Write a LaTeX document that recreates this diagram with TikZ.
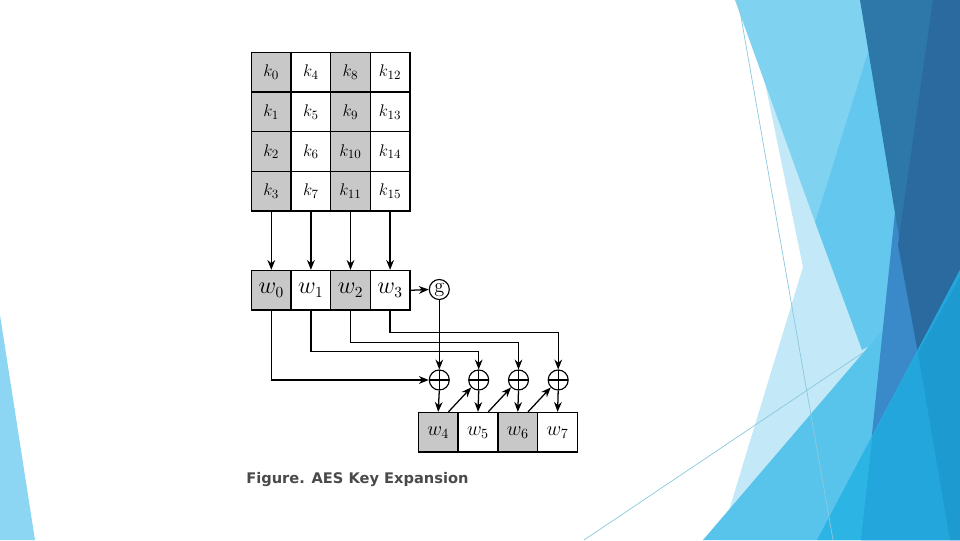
\documentclass[tikz,border=0pt]{standalone}
\usepackage{fontspec}
\usepackage{tikz}
\usetikzlibrary{arrows.meta,positioning,calc}
\newfontfamily\capfont{DejaVu Sans}
\definecolor{cellgray}{HTML}{C8C8C8}
\definecolor{capgray}{HTML}{4A4A4A}
\definecolor{thinline}{HTML}{8CC8DE}
\definecolor{facetpale}{HTML}{C3E8F8}
\definecolor{facetlight}{HTML}{80D2F1}
\definecolor{facetmid}{HTML}{64C8EE}
\definecolor{facetcyan}{HTML}{58C4EB}
\definecolor{facetbright}{HTML}{2BB4E4}
\definecolor{facetdeep}{HTML}{22A6DC}
\definecolor{facetband}{HTML}{1D9BD0}
\definecolor{facetstrip}{HTML}{3A8ACA}
\definecolor{facetdark}{HTML}{2E77A9}
\definecolor{facetdarker}{HTML}{2A6A9E}
\newcommand{\kfont}{\fontsize{13}{15}\selectfont}
\newcommand{\wfont}{\fontsize{16}{18}\selectfont}
\newcommand{\vfont}{\fontsize{14}{16}\selectfont}

\begin{document}
\begin{tikzpicture}[x=0.025cm,y=-0.025cm,
    cell/.style={draw,line width=0.9pt,minimum size=0.99cm,inner sep=0pt},
    xor/.style={circle,draw,line width=0.8pt,minimum size=0.5cm,inner sep=0pt,
      path picture={\draw[line width=0.8pt] (path picture bounding box.north) -- (path picture bounding box.south)
        (path picture bounding box.west) -- (path picture bounding box.east);}},
    arr/.style={line width=0.9pt,-{Stealth[length=7pt,width=5.5pt]}}]
  \useasboundingbox (0,0) rectangle (960,540);
  % slide background
  \fill[white] (0,0) rectangle (960,540);
  \fill[facetlight!90!white] (0,315) -- (35,540) -- (0,540) -- cycle;
  \fill[facetpale] (748,0) -- (803,267) -- (720,540) -- (960,540) -- (960,0) -- cycle;
  \fill[facetlight] (735,0) -- (884,0) -- (815,222) -- cycle;
  \fill[facetmid] (884,0) -- (960,0) -- (960,300) -- (862,350) -- (815,222) -- cycle;
  \fill[facetcyan] (703,540) -- (863,353) -- (960,240) -- (960,540) -- cycle;
  \fill[facetstrip] (895,212) -- (960,100) -- (960,540) -- (861,540) -- cycle;
  \fill[facetdark] (860,0) -- (960,0) -- (960,277) -- (918,353) -- cycle;
  \fill[facetdarker] (933,0) -- (960,0) -- (960,277) -- (918,353) -- (898,245) -- cycle;
  \fill[facetbright] (817,540) -- (960,270) -- (960,540) -- cycle;
  \fill[facetdeep] (872.4,436.8) -- (960,270) -- (960,540) -- (861,540) -- cycle;
  \fill[facetband] (918,353) -- (960,277) -- (960,540) -- (950,540) -- cycle;
  \draw[thinline,line width=0.5pt] (738,0) -- (833,540);
  \draw[thinline,line width=0.5pt] (584,540) -- (864,352);

  % key matrix
  \foreach \c in {0,...,3}
    \foreach \r in {0,...,3} {
      \pgfmathtruncatemacro{\idx}{4*\c+\r}
      \pgfmathtruncatemacro{\odd}{mod(\c,2)}
      \ifnum\odd=0 \def\cfill{cellgray}\else \def\cfill{white}\fi
      \node[cell,fill=\cfill,font=\kfont] (k\idx) at ({271.3+39.6*\c},{72.3+39.6*\r}) {$k_{\idx}$};
    }
  % first round words
  \foreach \c in {0,...,3} {
    \pgfmathtruncatemacro{\odd}{mod(\c,2)}
    \ifnum\odd=0 \def\cfill{cellgray}\else \def\cfill{white}\fi
    \node[cell,fill=\cfill,font=\wfont] (w\c) at ({271.3+39.6*\c},290.3) {$w_{\c}$};
  }
  \node[circle,draw,line width=0.8pt,minimum size=0.5cm,inner sep=0pt,font=\fontsize{14.5}{16}\selectfont] (g) at (439.3,289.5) {g};
  \foreach \i/\xx in {0/439.3,1/478.7,2/518.5,3/558.2}
    \node[xor] (x\i) at (\xx,380) {};
  % next round words
  \foreach \i in {0,...,3} {
    \pgfmathtruncatemacro{\j}{\i+4}
    \pgfmathtruncatemacro{\odd}{mod(\i,2)}
    \ifnum\odd=0 \def\cfill{cellgray}\else \def\cfill{white}\fi
    \node[cell,fill=\cfill,font=\vfont] (v\i) at ({438.2+39.8*\i},432.3) {$w_{\j}$};
  }

  \foreach \c in {0,...,3} {
    \pgfmathtruncatemacro{\b}{4*\c+3}
    \draw[arr] (k\b.south) -- (w\c.north);
  }
  \draw[arr] (w3.east) -- (g.west);
  \draw[arr] (g.south) -- (x0.north);
  \draw[arr] (w0.south) |- (x0.west);
  \draw[arr] (w1.south) -- ++(0,41) -| (x1.north);
  \draw[arr] (w2.south) -- ++(0,31.5) -| (x2.north);
  \draw[arr] (w3.south) -- ++(0,21.5) -| (x3.north);
  \foreach \i in {0,...,3}
    \draw[arr] (x\i.south) -- (v\i.north);
  \foreach \i/\n in {0/1,1/2,2/3}
    \draw[arr] ($(v\i.north)!0.5!(v\i.north east)$) -- (x\n.south west);

  \node[anchor=west,inner sep=0pt,text=capgray,font=\capfont\bfseries\fontsize{10.4}{13}\selectfont] (cap) at (246,480) {Figure. AES Key Expansion};
\end{tikzpicture}
\end{document}
